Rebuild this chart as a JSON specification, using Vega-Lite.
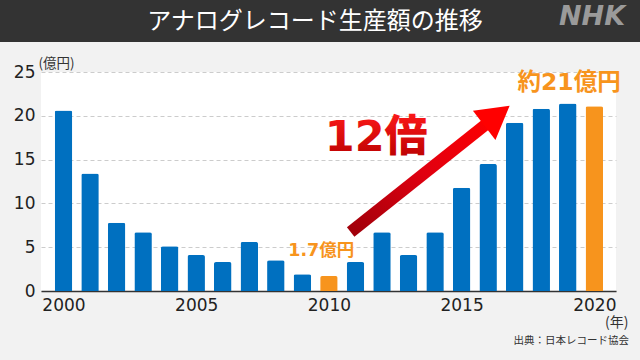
{
  "$schema": "https://vega.github.io/schema/vega-lite/v6.json",
  "background": "#f2f2f2",
  "padding": {"left": 0, "top": 0, "right": 0, "bottom": 16},
  "spacing": 14,
  "config": {"view": {"stroke": null}, "font": "Noto Sans CJK JP"},
  "vconcat": [
    {
      "width": 640,
      "height": 42,
      "data": {"values": [{}]},
      "layer": [
        {"mark": {"type": "rect", "color": "#333333"}, "encoding": {}},
        {"mark": {"type": "text", "text": "アナログレコード生産額の推移", "font": "Noto Sans CJK JP", "fontSize": 24, "color": "#ffffff", "dx": -5, "dy": 1, "baseline": "middle", "align": "center"}, "encoding": {}},
        {"mark": {"type": "text", "text": "NHK", "font": "DejaVu Sans", "fontStyle": "italic", "fontWeight": "bold", "fontSize": 27, "color": "#9a9a9a", "dx": 272, "dy": -4, "baseline": "middle", "align": "center"}, "encoding": {}}
      ]
    },
    {
      "spacing": 0,
      "hconcat": [
        {
          "width": 1,
          "height": 1,
          "view": {"fill": "#f2f2f2", "stroke": null},
          "data": {"values": [{}]},
          "mark": {"type": "text", "text": ""},
          "encoding": {}
        },
        {
          "width": 575,
          "height": 219,
          "view": {"fill": "#ffffff", "stroke": null},
          "title": {"text": "出典：日本レコード協会", "orient": "bottom", "anchor": "end", "frame": "group", "font": "Noto Sans CJK JP", "fontSize": 10.5, "fontWeight": "normal", "color": "#333333", "offset": 6, "dx": 13},
          "data": {"values": [
            {"year": 2000, "value": 20.6},
            {"year": 2001, "value": 13.4},
            {"year": 2002, "value": 7.8},
            {"year": 2003, "value": 6.7},
            {"year": 2004, "value": 5.1},
            {"year": 2005, "value": 4.1},
            {"year": 2006, "value": 3.3},
            {"year": 2007, "value": 5.6},
            {"year": 2008, "value": 3.5},
            {"year": 2009, "value": 1.9},
            {"year": 2010, "value": 1.7},
            {"year": 2011, "value": 3.3},
            {"year": 2012, "value": 6.7},
            {"year": 2013, "value": 4.1},
            {"year": 2014, "value": 6.7},
            {"year": 2015, "value": 11.8},
            {"year": 2016, "value": 14.5},
            {"year": 2017, "value": 19.2},
            {"year": 2018, "value": 20.8},
            {"year": 2019, "value": 21.4},
            {"year": 2020, "value": 21.1}
          ]},
          "layer": [
            {
              "mark": {"type": "bar", "width": 17.5, "cornerRadiusTopLeft": 2, "cornerRadiusTopRight": 2},
              "encoding": {
                "x": {
                  "field": "year", "type": "quantitative",
                  "scale": {"domain": [1999.341, 2020.629], "nice": false, "zero": false},
                  "axis": {
                    "values": [2000, 2005, 2010, 2015, 2020], "format": "d",
                    "ticks": false, "tickSize": 0, "grid": false,
                    "domainColor": "#333333", "domainWidth": 1.5,
                    "labelFont": "DejaVu Sans", "labelFontSize": 17, "labelColor": "#222222",
                    "labelPadding": 6, "labelFlush": false, "labelOverlap": false, "labelBound": false,
                    "title": "(年)", "titleFont": "Noto Sans CJK JP", "titleFontSize": 14, "titleFontWeight": "normal",
                    "titleColor": "#333333", "titleAnchor": null, "titleAlign": "right", "titleBaseline": "alphabetic",
                    "titleX": 587, "titleY": 35.5
                  }
                },
                "y": {
                  "field": "value", "type": "quantitative",
                  "scale": {"domain": [0, 25], "nice": false},
                  "axis": {
                    "values": [0, 5, 10, 15, 20, 25],
                    "domain": false, "ticks": true, "tickSize": 39, "tickColor": "transparent",
                    "labelPadding": -33,
                    "grid": true, "gridColor": "#cccccc", "gridDash": [4, 3], "gridWidth": 1,
                    "labelFont": "DejaVu Sans", "labelFontSize": 17, "labelColor": "#222222",
                    "title": "(億円)", "titleFont": "Noto Sans CJK JP", "titleFontSize": 13.5, "titleFontWeight": "normal",
                    "titleColor": "#333333", "titleAngle": 0, "titleAnchor": null, "titleAlign": "left", "titleBaseline": "alphabetic",
                    "titleX": -3, "titleY": -4.5
                  }
                },
                "color": {
                  "condition": {"test": "datum.year === 2010 || datum.year === 2020", "value": "#f7941d"},
                  "value": "#0070c0"
                }
              }
            },
            {
              "data": {"values": [{}]},
              "mark": {"type": "rule", "strokeWidth": 12, "strokeCap": "butt",
                "stroke": {"gradient": "linear", "x1": 0, "y1": 1, "x2": 1, "y2": 0,
                  "stops": [{"offset": 0, "color": "#a0000a"}, {"offset": 0.5, "color": "#e00010"}, {"offset": 1, "color": "#ff0000"}]}},
              "encoding": {
                "x": {"datum": 2010.82}, "y": {"datum": 6.74},
                "x2": {"datum": 2016.33}, "y2": {"datum": 20.02}
              }
            },
            {
              "data": {"values": [{}]},
              "mark": {"type": "point", "shape": "triangle-up", "size": 1369, "angle": 52.5, "filled": true, "color": "#ff0000", "opacity": 1},
              "encoding": {"x": {"datum": 2016.33}, "y": {"datum": 20.02}}
            },
            {
              "data": {"values": [{}]},
              "mark": {"type": "text", "text": "1.7億円", "font": "DejaVu Sans, Noto Sans CJK JP", "fontWeight": "bold", "fontSize": 17.5, "color": "#f7941d", "baseline": "middle", "align": "center"},
              "encoding": {"x": {"datum": 2009.71}, "y": {"datum": 4.57}}
            },
            {
              "data": {"values": [{}]},
              "mark": {"type": "text", "text": "約21億円", "font": "DejaVu Sans, Noto Sans CJK JP", "fontWeight": "bold", "fontSize": 23.5, "color": "#f7941d", "baseline": "middle", "align": "center"},
              "encoding": {"x": {"datum": 2019.05}, "y": {"datum": 23.69}}
            },
            {
              "data": {"values": [{}]},
              "mark": {"type": "text", "text": "12倍", "font": "DejaVu Sans, Noto Sans CJK JP", "fontWeight": 900, "fontSize": 43, "baseline": "middle", "align": "center",
                "fill": {"gradient": "linear", "x1": 0, "y1": 0, "x2": 0, "y2": 1,
                  "stops": [{"offset": 0, "color": "#ff1a1a"}, {"offset": 1, "color": "#b80000"}]}},
              "encoding": {"x": {"datum": 2011.78}, "y": {"datum": 17.5}}
            }
          ]
        }
      ]
    }
  ]
}
